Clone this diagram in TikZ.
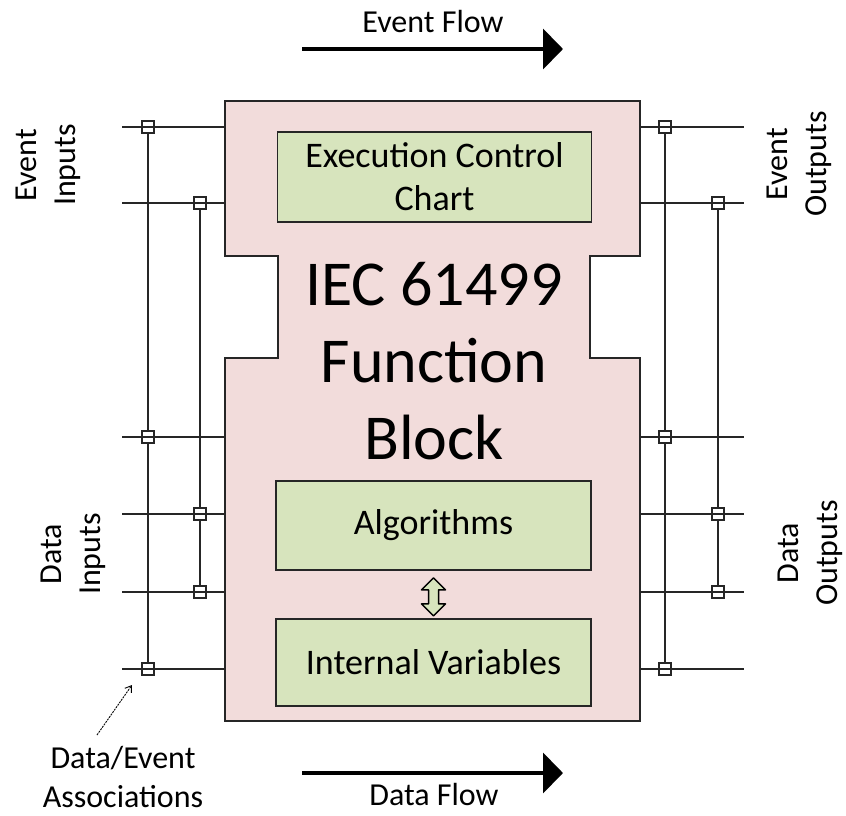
\documentclass[tikz,border=0pt]{standalone}
\usepackage{fontspec}
\setmainfont{Carlito}
\usetikzlibrary{arrows.meta,calc}
\definecolor{fbpink}{HTML}{F2DCDB}
\definecolor{boxgreen}{HTML}{D7E4BD}
\definecolor{lineblack}{HTML}{262626}
\begin{document}
\begin{tikzpicture}[x=1pt,y=-1pt,
  wire/.style={line width=1.6pt, draw=lineblack},
  sq/.style={draw=lineblack, fill=white, line width=1.3pt, minimum size=12pt, inner sep=0pt},
  outline/.style={draw=lineblack, line width=1.8pt},
  innerbox/.style={outline, fill=boxgreen, inner sep=0pt, align=center, font=\fontsize{36}{43}\selectfont},
  lab/.style={inner sep=0pt, align=center, font=\fontsize{32}{39}\selectfont},
  flow/.style={line width=4pt, draw=black, -{Triangle[length=20pt,width=40pt]}},
  dbl/.style={draw=black, line width=1.5pt, fill=boxgreen, line join=round}
]
\useasboundingbox (0,0) rectangle (846,815);

% main function block
\path[outline, fill=fbpink] (225,101) -- (640,101) -- (640,256) -- (590,256) -- (590,358)
  -- (640,358) -- (640,721) -- (225,721) -- (225,358) -- (278,358) -- (278,256)
  -- (225,256) -- cycle;

% inner boxes
\node[innerbox, minimum width=314pt, minimum height=90pt] (ecc) at (434.5,177) {Execution Control\\Chart};
\node[innerbox, minimum width=315pt, minimum height=89pt] (alg) at (433.5,525.5) {Algorithms};
\node[innerbox, minimum width=315pt, minimum height=87pt] (iv) at (433.5,662.5) {Internal Variables};

% title
\node[inner sep=0pt, align=center, font=\fontsize{64}{77}\selectfont] (title) at (434,361) {IEC 61499\\Function\\Block};

% double arrow between algorithms and internal variables
\draw[dbl] ($(alg.south)+(0,7)$) -- ++(12,12) -- ++(-7,0) -- ++(0,14) -- ++(7,0)
  -- ++(-12,12) -- ++(-12,-12) -- ++(7,0) -- ++(0,-14) -- ++(-7,0) -- cycle;

% wire end coordinates
\foreach \n/\y in {1/127,2/203,3/437,4/514,5/592,6/669} {
  \coordinate (inw\n) at (122,\y);
  \coordinate (inb\n) at (225,\y);
  \coordinate (outb\n) at (640,\y);
  \coordinate (outw\n) at (744,\y);
}

% association squares
\node[sq] (L1) at (148,127) {};
\node[sq] (L2) at (200,203) {};
\node[sq] (L3) at (148,437) {};
\node[sq] (L4) at (200,514) {};
\node[sq] (L5) at (200,592) {};
\node[sq] (L6) at (148,669) {};
\node[sq] (R1) at (665,127) {};
\node[sq] (R2) at (718,203) {};
\node[sq] (R3) at (665,437) {};
\node[sq] (R4) at (718,514) {};
\node[sq] (R5) at (718,592) {};
\node[sq] (R6) at (665,669) {};

% horizontal wires
\foreach \n in {1,...,6} {
  \draw[wire] (inw\n) -- (inb\n);
  \draw[wire] (outb\n) -- (outw\n);
}

% vertical association lines
\draw[wire] (L1) -- (L3) -- (L6);
\draw[wire] (L2) -- (L4) -- (L5);
\draw[wire] (R1) -- (R3) -- (R6);
\draw[wire] (R2) -- (R4) -- (R5);

% side labels
\node[lab, rotate=90] (evin) at (48,165) {Event\\Inputs};
\node[lab, rotate=90] (evout) at (799,164) {Event\\Outputs};
\node[lab, rotate=90] (dain) at (73,554) {Data\\Inputs};
\node[lab, rotate=90] (daout) at (810,553) {Data\\Outputs};

% flow arrows
\coordinate (ef1) at (302,49);
\coordinate (ef2) at (563,49);
\draw[flow] (ef1) -- (ef2);
\node[lab, anchor=base] (eflab) at (433,32) {Event Flow};

\coordinate (df1) at (302,773);
\coordinate (df2) at (563,773);
\draw[flow] (df1) -- (df2);
\node[lab, anchor=base] (dflab) at (434,805) {Data Flow};

% associations label and pointer
\node[lab] (assoc) at (123,777) {Data/Event\\Associations};
\coordinate (at1) at (97,735);
\coordinate (at2) at (132,685);
\draw[line width=0.9pt, dash pattern=on 2pt off 1pt, -{Straight Barb[length=6pt,width=8pt]}] (at1) -- (at2);
\end{tikzpicture}
\end{document}
